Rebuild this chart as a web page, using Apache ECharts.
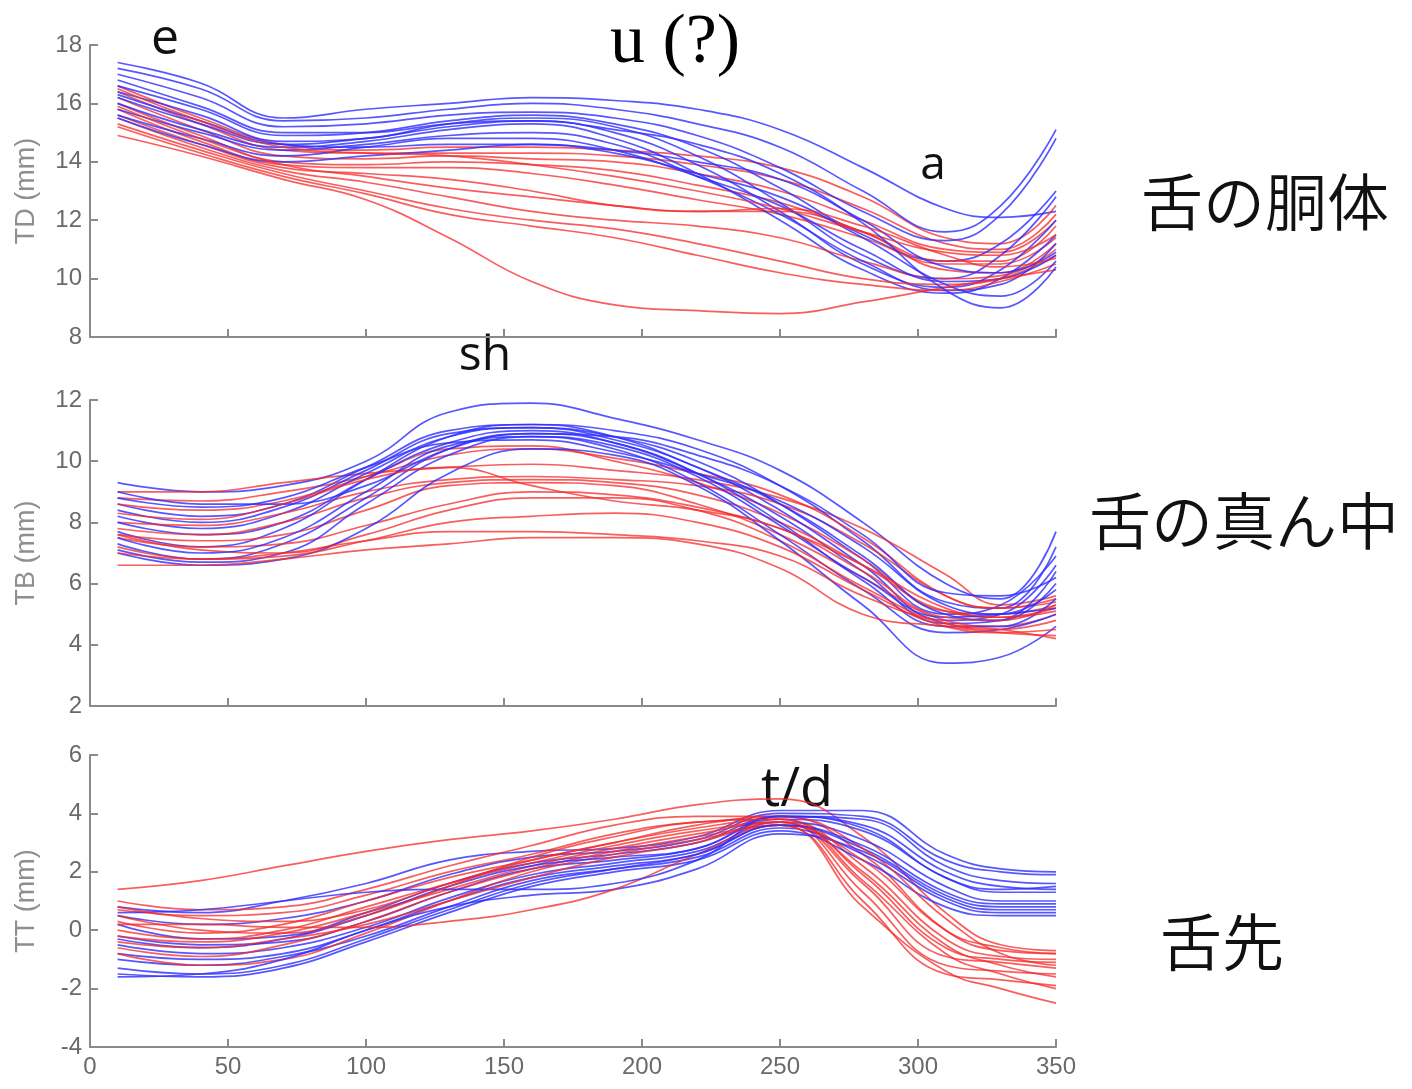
<!DOCTYPE html>
<html>
<head>
<meta charset="utf-8">
<title>TD / TB / TT</title>
<script src="https://cdn.jsdelivr.net/npm/echarts@6/dist/echarts.min.js"></script>
<style>
  html, body { margin: 0; padding: 0; background: #fff; }
  #chart { width: 1412px; height: 1089px; }
</style>
</head>
<body>
<div id="chart"></div>
<script>
// sample times (ms) shared by every trajectory
const times = [10, 40, 70, 100, 130, 160, 190, 220, 250, 280, 310, 330, 350]
const xTicks = [0, 50, 100, 150, 200, 250, 300, 350]

// 舌の胴体 (TD)
const tdBlue = [
  [17.4, 16.7, 15.5, 15.8, 16.0, 16.2, 16.1, 15.8, 15.1, 13.8, 12.4, 12.1, 12.3],
  [17.2, 16.5, 15.4, 15.5, 15.8, 16.0, 15.8, 15.3, 14.5, 13.0, 11.6, 12.5, 15.1],
  [17.0, 16.2, 15.2, 15.3, 15.6, 15.7, 15.5, 14.9, 13.8, 12.3, 11.3, 12.2, 14.8],
  [16.6, 15.8, 14.9, 15.0, 15.4, 15.6, 15.3, 14.5, 13.1, 11.5, 10.6, 11.2, 13.0],
  [16.4, 15.6, 14.7, 14.8, 15.3, 15.5, 15.2, 14.2, 12.6, 10.8, 10.0, 10.8, 12.8],
  [16.2, 15.3, 14.6, 14.8, 15.2, 15.4, 15.0, 13.9, 12.3, 10.5, 9.7, 10.3, 12.0],
  [16.0, 15.1, 14.5, 14.7, 15.1, 15.3, 14.8, 13.6, 12.0, 10.3, 9.5, 10.0, 11.5],
  [15.8, 15.0, 14.4, 14.6, 14.9, 15.0, 14.6, 13.5, 12.2, 10.6, 9.6, 9.8, 11.2],
  [15.6, 14.8, 14.2, 14.5, 14.8, 14.8, 14.4, 13.5, 12.5, 11.0, 9.9, 10.0, 10.8],
  [15.5, 14.6, 14.0, 14.2, 14.4, 14.6, 14.3, 13.6, 12.8, 11.4, 9.8, 9.4, 10.6],
  [16.3, 15.4, 14.6, 14.5, 14.6, 14.6, 14.4, 14.0, 13.4, 12.0, 10.4, 10.2, 10.9],
  [16.8, 15.9, 15.0, 15.0, 15.3, 15.4, 15.1, 14.6, 13.6, 11.9, 9.6, 9.0, 10.4]
]
const tdRed = [
  [16.6, 15.5, 14.6, 14.4, 14.5, 14.5, 14.4, 14.2, 13.8, 12.8, 11.4, 11.2, 12.5],
  [16.4, 15.3, 14.4, 14.3, 14.3, 14.3, 14.2, 13.9, 13.4, 12.4, 11.2, 11.0, 12.2],
  [16.2, 15.1, 14.2, 14.1, 14.2, 14.1, 14.0, 13.6, 13.0, 12.0, 11.0, 10.9, 12.0],
  [16.0, 14.9, 14.0, 13.9, 14.0, 13.9, 13.7, 13.2, 12.6, 11.6, 10.6, 10.6, 11.8],
  [15.8, 14.7, 13.9, 13.8, 13.8, 13.6, 13.2, 12.7, 12.2, 11.4, 10.5, 10.5, 11.4],
  [15.6, 14.6, 13.8, 13.6, 13.4, 13.0, 12.5, 12.3, 12.3, 11.6, 10.3, 10.2, 11.2],
  [15.5, 14.5, 13.7, 13.3, 12.8, 12.3, 12.0, 11.8, 11.4, 10.6, 10.0, 10.1, 11.0],
  [15.3, 14.4, 13.6, 13.0, 12.4, 12.0, 11.7, 11.2, 10.6, 10.0, 9.8, 10.0, 10.8],
  [15.2, 14.3, 13.5, 12.9, 12.2, 11.8, 11.4, 10.8, 10.2, 9.8, 9.6, 9.9, 10.5],
  [14.9, 14.2, 13.4, 12.7, 11.4, 9.9, 9.1, 8.9, 8.8, 9.2, 9.7, 10.0, 10.3],
  [16.5, 15.4, 14.5, 14.3, 14.2, 13.9, 13.5, 13.0, 12.4, 11.6, 10.9, 10.8, 11.5],
  [15.9, 14.8, 13.9, 13.5, 13.1, 12.8, 12.5, 12.3, 12.4, 11.8, 10.8, 10.4, 10.7]
]

// 舌の真ん中 (TB)
const tbBlue = [
  [9.3, 9.0, 9.2, 10.0, 11.6, 11.9, 11.4, 10.7, 9.7, 8.0, 6.0, 5.5, 7.7],
  [8.6, 8.2, 8.6, 9.8, 11.0, 11.2, 11.0, 10.4, 9.2, 7.4, 5.4, 5.2, 7.2],
  [8.4, 8.0, 8.5, 9.7, 10.9, 11.1, 10.8, 10.0, 8.6, 6.8, 5.0, 5.3, 6.9],
  [8.2, 7.8, 8.3, 9.6, 10.8, 11.1, 10.7, 9.8, 8.4, 6.6, 4.8, 5.0, 6.6],
  [8.0, 7.6, 8.0, 9.4, 10.6, 11.0, 10.6, 9.6, 8.2, 6.4, 4.7, 4.8, 6.4],
  [7.7, 7.2, 7.8, 9.4, 10.8, 11.2, 10.8, 9.8, 8.6, 6.9, 5.0, 4.8, 6.0],
  [7.3, 6.8, 7.3, 8.8, 10.4, 10.9, 10.6, 9.6, 8.0, 6.1, 4.6, 4.6, 5.5],
  [7.1, 6.7, 7.0, 8.6, 10.2, 10.8, 10.4, 9.3, 7.6, 5.8, 4.4, 4.5, 5.0],
  [7.0, 6.6, 6.8, 7.8, 9.6, 10.4, 10.2, 9.2, 7.4, 5.3, 3.4, 3.6, 4.6],
  [8.8, 8.5, 8.8, 9.8, 10.6, 10.7, 10.3, 9.6, 8.7, 7.2, 5.3, 5.0, 5.8],
  [9.0, 8.6, 8.6, 9.2, 10.4, 10.9, 10.8, 10.2, 9.2, 7.6, 5.7, 5.6, 6.2],
  [7.5, 7.0, 7.5, 9.0, 10.5, 10.8, 10.5, 9.5, 7.9, 6.2, 4.9, 5.0, 5.2]
]
const tbRed = [
  [9.0, 9.0, 9.3, 9.6, 9.8, 9.9, 9.7, 9.4, 8.8, 7.8, 6.3, 5.3, 5.6],
  [8.8, 8.7, 9.0, 9.5, 10.2, 10.4, 10.1, 9.6, 8.9, 7.5, 5.6, 5.2, 5.4],
  [8.6, 8.4, 8.7, 9.5, 10.4, 10.5, 10.0, 9.3, 8.3, 6.8, 5.1, 5.0, 5.3],
  [8.0, 7.9, 8.3, 9.0, 9.4, 9.5, 9.4, 9.2, 8.6, 7.3, 5.6, 5.2, 5.5],
  [7.8, 7.6, 8.0, 8.8, 9.3, 9.4, 9.3, 8.9, 8.0, 6.6, 5.1, 4.9, 5.2],
  [7.6, 7.4, 7.6, 8.4, 9.2, 9.3, 9.2, 8.6, 7.6, 6.2, 4.8, 4.6, 5.0],
  [7.5, 7.2, 7.3, 7.9, 8.6, 9.0, 8.9, 8.5, 7.8, 6.6, 5.2, 4.9, 5.1],
  [7.6, 7.1, 7.0, 7.6, 8.4, 8.8, 8.8, 8.4, 7.4, 5.9, 4.7, 4.5, 4.8],
  [7.2, 6.8, 6.9, 7.4, 8.0, 8.2, 8.3, 8.0, 7.2, 5.8, 4.6, 4.4, 4.5],
  [6.6, 6.6, 6.8, 7.1, 7.3, 7.5, 7.5, 7.3, 6.5, 5.0, 4.6, 4.4, 4.3],
  [7.0, 6.8, 7.0, 7.4, 7.7, 7.7, 7.6, 7.4, 6.9, 5.6, 4.7, 4.5, 4.2],
  [8.3, 8.1, 8.6, 9.4, 9.8, 9.2, 8.7, 8.4, 7.8, 6.4, 4.9, 4.8, 5.3]
]

// 舌先 (TT)
const ttBlue = [
  [0.8, 0.6, 1.0, 1.6, 2.4, 2.7, 2.8, 3.2, 4.1, 4.1, 2.6, 2.1, 2.0],
  [0.5, 0.2, 0.4, 1.0, 1.9, 2.5, 2.7, 3.1, 4.0, 3.9, 2.4, 2.0, 1.9],
  [0.2, -0.3, -0.2, 0.6, 1.6, 2.3, 2.6, 3.0, 3.9, 3.6, 2.0, 1.5, 1.4],
  [-0.2, -0.5, -0.4, 0.3, 1.3, 2.1, 2.4, 2.8, 3.8, 3.4, 1.8, 1.3, 1.3],
  [-0.5, -0.8, -0.6, 0.1, 1.1, 1.9, 2.3, 2.7, 3.7, 3.1, 1.5, 1.0, 1.0],
  [-0.8, -1.0, -0.8, 0.0, 1.0, 1.8, 2.2, 2.6, 3.6, 2.8, 1.2, 0.8, 0.8],
  [-1.0, -1.2, -0.9, -0.2, 0.8, 1.7, 2.1, 2.5, 3.5, 2.6, 1.0, 0.6, 0.6],
  [-1.5, -1.6, -1.3, -0.4, 0.6, 1.5, 2.0, 2.4, 3.4, 2.4, 0.8, 0.5, 0.5],
  [-1.6, -1.5, -1.0, 0.0, 0.8, 1.2, 1.4, 2.1, 3.3, 2.7, 1.1, 0.7, 0.7],
  [0.6, 0.7, 1.0, 1.3, 1.4, 1.4, 1.6, 2.4, 3.9, 3.8, 2.2, 1.7, 1.6],
  [-0.3, -0.6, -0.3, 0.5, 1.5, 2.2, 2.5, 2.8, 3.9, 3.5, 1.8, 1.4, 1.5],
  [-1.3, -1.5, -1.2, -0.3, 0.7, 1.6, 2.1, 2.6, 3.6, 2.9, 1.3, 0.9, 0.9]
]
const ttRed = [
  [1.4, 1.7, 2.2, 2.7, 3.1, 3.4, 3.8, 4.3, 4.5, 3.2, 0.6, -0.5, -0.7],
  [1.0, 0.7, 0.8, 1.4, 2.2, 2.9, 3.6, 3.9, 3.9, 2.6, 0.0, -0.7, -0.8],
  [0.7, 0.5, 0.6, 1.2, 2.0, 2.6, 3.3, 3.7, 3.8, 2.2, -0.3, -0.9, -1.0],
  [0.3, -0.1, 0.2, 1.0, 1.8, 2.4, 3.0, 3.5, 3.8, 1.9, -0.6, -1.0, -1.1],
  [0.0, -0.3, 0.0, 0.8, 1.6, 2.3, 2.9, 3.4, 3.7, 1.6, -0.9, -1.1, -1.3],
  [-0.2, -0.4, -0.1, 0.6, 1.4, 2.2, 2.8, 3.3, 3.7, 1.3, -1.2, -1.4, -1.5],
  [-0.6, -0.9, -0.5, 0.3, 1.3, 2.1, 2.7, 3.2, 3.6, 1.0, -1.5, -1.7, -1.9],
  [-0.8, -1.2, -1.0, -0.1, 1.0, 2.0, 2.6, 3.1, 3.6, 0.8, -1.4, -2.0, -2.5],
  [0.2, 0.2, 0.1, 0.1, 0.3, 0.7, 1.4, 2.6, 3.6, 2.4, 0.0, -0.6, -0.8],
  [0.8, 0.4, 0.3, 0.7, 1.6, 2.4, 3.0, 3.6, 3.9, 2.8, 0.4, -0.8, -1.2],
  [-0.4, -0.6, -0.3, 0.2, 1.0, 1.8, 2.5, 3.0, 3.7, 2.0, -0.5, -1.2, -1.6],
  [0.5, 0.0, -0.1, 0.5, 1.5, 2.5, 3.2, 3.7, 3.8, 1.7, -0.8, -1.5, -2.0]
]

const panels = [
  { name: 'TD (mm)', min: 8, max: 18, blue: tdBlue, red: tdRed },
  { name: 'TB (mm)', min: 2, max: 12, blue: tbBlue, red: tbRed },
  { name: 'TT (mm)', min: -4, max: 6, blue: ttBlue, red: ttRed }
]

const BLUE = 'rgba(45, 45, 255, 0.8)'
const RED = 'rgba(245, 40, 40, 0.75)'
const AXIS = '#8a8a8a'
const LABEL = '#6a6a6a'
const NUM_FONT = 'Liberation Sans, Arial, sans-serif'

const grids = [
  { left: 90, width: 966, top: 45, height: 292 },
  { left: 90, width: 966, top: 400, height: 306 },
  { left: 90, width: 966, top: 755, height: 292 }
]

const makeLine = (vals, color, idx) => ({
  type: 'line',
  xAxisIndex: idx,
  yAxisIndex: idx,
  data: times.map((t, k) => [t, vals[k]]),
  smooth: 0.45,
  showSymbol: false,
  silent: true,
  lineStyle: { width: 1.7, color }
})

const series = []
panels.forEach((p, i) => {
  const n = Math.max(p.blue.length, p.red.length)
  for (let k = 0; k < n; k++) {
    if (p.blue[k]) series.push(makeLine(p.blue[k], BLUE, i))
    if (p.red[k]) series.push(makeLine(p.red[k], RED, i))
  }
})

const xAxis = panels.map((p, i) => ({
  type: 'value',
  gridIndex: i,
  min: 0,
  max: 350,
  interval: 50,
  axisLine: { show: true, onZero: false, lineStyle: { color: AXIS, width: 2 } },
  axisTick: { show: true, inside: true, length: 8, lineStyle: { color: AXIS, width: 2 } },
  axisLabel: {
    show: i === 2,
    color: LABEL,
    fontSize: 24,
    fontFamily: NUM_FONT,
    margin: 8,
    formatter: v => (xTicks.includes(v) ? String(v) : '')
  },
  splitLine: { show: false }
}))

const yAxis = panels.map((p, i) => ({
  type: 'value',
  gridIndex: i,
  min: p.min,
  max: p.max,
  interval: 2,
  name: p.name,
  nameLocation: 'middle',
  nameRotate: 90,
  nameGap: 50,
  nameTextStyle: { color: '#8f8f8f', fontSize: 27, fontFamily: NUM_FONT },
  axisLine: { show: true, onZero: false, lineStyle: { color: AXIS, width: 2 } },
  axisTick: { show: true, inside: true, length: 8, lineStyle: { color: AXIS, width: 2 } },
  axisLabel: { color: LABEL, fontSize: 24, fontFamily: NUM_FONT, margin: 8 },
  splitLine: { show: false }
}))

const txt = (x, y, text, size, font, color, weight) => ({
  type: 'text',
  x, y,
  style: {
    text,
    fill: color || '#111',
    font: (weight || 'normal') + ' ' + size + 'px ' + font,
    textAlign: 'center',
    textVerticalAlign: 'middle'
  }
})
const SANS = '"Open Sans", "Noto Sans", sans-serif'
const JP = '"Noto Sans CJK JP", sans-serif'

const chart = echarts.init(document.getElementById('chart'))
chart.setOption({
  animation: false,
  backgroundColor: '#fff',
  grid: grids,
  xAxis,
  yAxis,
  series,
  graphic: [
    txt(165, 40, 'e', 50, SANS),
    txt(675, 44, 'u (?)', 70, '"Liberation Serif", "Times New Roman", serif', '#000'),
    txt(933, 166, 'a', 46, SANS),
    txt(485, 356, 'sh', 48, SANS),
    txt(797, 791, 't/d', 54, SANS),
    txt(1265, 202, '舌の胴体', 62, JP, '#111', 350),
    txt(1244, 521, '舌の真ん中', 62, JP, '#111', 350),
    txt(1222, 942, '舌先', 62, JP, '#111', 350)
  ]
})
</script>
</body>
</html>
